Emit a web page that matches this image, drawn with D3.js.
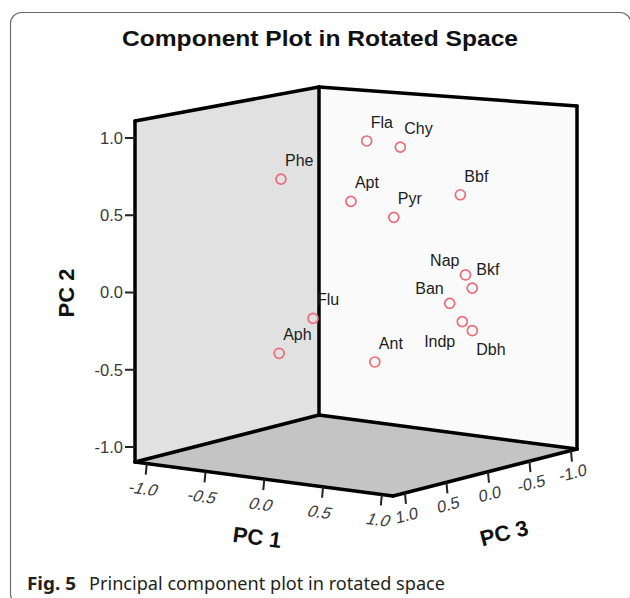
<!DOCTYPE html>
<html>
<head>
<meta charset="utf-8">
<script src="https://cdn.jsdelivr.net/npm/d3@7"></script>
<style>
  body { margin: 0; background: #fff; }
  svg { display: block; }
</style>
</head>
<body>
<svg id="chart" width="630" height="598"></svg>
<script>
// Component loadings (rotated solution)
const names = ["Phe", "Aph", "Flu", "Fla", "Chy", "Apt", "Pyr", "Bbf", "Nap", "Bkf", "Ban", "Indp", "Dbh", "Ant"];
const pc1 = [-0.20, -0.30, 0.20, 0.00, 0.30, 0.00, 0.40, 0.50, 0.60, 0.70, 0.60, 0.70, 0.75, 0.50];
const pc2 = [0.74, -0.40, -0.10, 0.92, 0.90, 0.55, 0.48, 0.56, 0.06, -0.01, -0.10, -0.21, -0.27, -0.39];
const pc3 = [0.66, 0.54, 0.84, -0.09, -0.07, 0.10, 0.15, -0.51, -0.43, -0.37, -0.24, -0.25, -0.30, 0.52];

const tickValues = [-1.0, -0.5, 0.0, 0.5, 1.0];
const tickLabels = ["-1.0", "-0.5", "0.0", "0.5", "1.0"];

// labels that sit somewhere other than above-right of their marker
const labelPlace = { Nap: "left", Ban: "left", Indp: "below-left", Dbh: "below-right" };

const svg = d3.select("#chart");
const SANS = '"Liberation Sans"';
const CAP = '"Noto Sans"';

// outer frame (right side runs just past the page edge)
svg.append("rect")
  .attr("x", 10.5).attr("y", 12.5)
  .attr("width", 620.5).attr("height", 592)
  .attr("rx", 11)
  .attr("fill", "#fff")
  .attr("stroke", "#6e6e6e")
  .attr("stroke-width", 1.2);

// title
svg.append("text")
  .style("font-family", SANS)
  .attr("x", 320).attr("y", 46)
  .attr("text-anchor", "middle")
  .style("font-weight", "bold")
  .style("font-size", "22.5px")
  .attr("textLength", 396).attr("lengthAdjust", "spacingAndGlyphs")
  .attr("fill", "#111")
  .text("Component Plot in Rotated Space");

// data -> unit cube
const u1 = d3.scaleLinear().domain([-1.10, 1.095]).range([0, 1]);
const u2 = d3.scaleLinear().domain([-1.097, 1.11]).range([0, 1]);
const u3 = d3.scaleLinear().domain([1.144, -1.073]).range([0, 1]);

// unit cube -> screen, floor corner (pc1 min, pc3 max) as origin,
// with vertical extent shrinking towards the back corner
const A = [135, 462], e1 = [258, 34], e3 = [184, -47];
function proj(a, b, c) {
  const h = 341 + 15 * a - 13 * c;
  return [A[0] + e1[0] * a + e3[0] * c, A[1] + e1[1] * a + e3[1] * c - h * b];
}
const P = (v1, v2, v3) => proj(u1(v1), u2(v2), u3(v3));

const fA = proj(0, 0, 0), fB = proj(1, 0, 0), fC = proj(1, 0, 1), fD = proj(0, 0, 1);
const tA = proj(0, 1, 0), tC = proj(1, 1, 1), tD = proj(0, 1, 1);

const poly = pts => "M" + pts.map(p => p.join(",")).join("L") + "Z";

// walls and floor
svg.append("path").attr("d", poly([fA, fB, fC, fD])).attr("fill", "#c4c4c4");
svg.append("path").attr("d", poly([fA, fD, tD, tA])).attr("fill", "#e1e1e1");
svg.append("path").attr("d", poly([fD, fC, tC, tD])).attr("fill", "#fafafa");

// box edges
const edges = [[fA, tA], [tA, tD], [tD, fD], [tD, tC], [tC, fC], [fA, fB], [fB, fC], [fA, fD], [fD, fC]];
svg.append("g").selectAll("line").data(edges).join("line")
  .attr("x1", d => d[0][0]).attr("y1", d => d[0][1])
  .attr("x2", d => d[1][0]).attr("y2", d => d[1][1])
  .attr("stroke", "#000")
  .attr("stroke-width", 3.5)
  .attr("stroke-linecap", "round");

const tickText = sel => sel
  .style("font-family", SANS).style("font-size", "16.5px").attr("fill", "#3a3a3a");

// PC 2 axis (left edge)
const g2 = svg.append("g");
tickValues.forEach((v, i) => {
  const p = P(-1.10, v, 1.144);
  g2.append("line")
    .attr("x1", p[0] - 10).attr("x2", p[0]).attr("y1", p[1]).attr("y2", p[1])
    .attr("stroke", "#222").attr("stroke-width", 2);
  g2.append("text").call(tickText)
    .attr("x", p[0] - 12).attr("y", p[1])
    .attr("dy", "0.36em")
    .attr("text-anchor", "end")
    .text(tickLabels[i]);
});

// PC 1 axis (front-left floor edge)
const ang1 = Math.atan2(e1[1], e1[0]) * 180 / Math.PI;
const g1 = svg.append("g");
tickValues.forEach((v, i) => {
  const p = P(v, -1.097, 1.144);
  g1.append("line")
    .attr("x1", p[0]).attr("x2", p[0] - 1).attr("y1", p[1]).attr("y2", p[1] + 11)
    .attr("stroke", "#222").attr("stroke-width", 2);
  g1.append("text").call(tickText)
    .attr("transform", `translate(${p[0] - 3},${p[1] + 25}) rotate(${ang1}) skewX(-18)`)
    .attr("text-anchor", "middle").attr("dy", "0.36em")
    .text(tickLabels[i]);
});

// PC 3 axis (front-right floor edge)
const ang3 = Math.atan2(e3[1], e3[0]) * 180 / Math.PI;
const g3 = svg.append("g");
tickValues.forEach((v, i) => {
  const p = P(1.095, -1.097, v);
  g3.append("line")
    .attr("x1", p[0]).attr("x2", p[0] + 1).attr("y1", p[1]).attr("y2", p[1] + 11)
    .attr("stroke", "#222").attr("stroke-width", 2);
  g3.append("text").call(tickText)
    .attr("transform", `translate(${p[0] + 2},${p[1] + 22}) rotate(${ang3}) skewX(-10)`)
    .attr("text-anchor", "middle").attr("dy", "0.36em")
    .text(tickLabels[i]);
});

// axis titles
const titleStyle = sel => sel
  .style("font-family", SANS)
  .attr("text-anchor", "middle").attr("dy", "0.36em")
  .style("font-weight", "bold")
  .style("font-size", "22px").attr("fill", "#111");

svg.append("text").call(titleStyle)
  .attr("transform", "translate(66,293) rotate(-90)")
  .text("PC 2");

const m1 = P(0, -1.097, 1.144);
svg.append("text").call(titleStyle)
  .attr("transform", `translate(${m1[0] - 7},${m1[1] + 58}) rotate(${ang1})`)
  .text("PC 1");

const m3 = P(1.095, -1.097, 0);
svg.append("text").call(titleStyle)
  .attr("transform", `translate(${m3[0] + 16},${m3[1] + 61}) rotate(${ang3})`)
  .text("PC 3");

// points
const pts = names.map((n, i) => ({ name: n, pos: P(pc1[i], pc2[i], pc3[i]) }));

svg.append("g").selectAll("circle").data(pts).join("circle")
  .attr("cx", d => d.pos[0]).attr("cy", d => d.pos[1])
  .attr("r", 5)
  .attr("fill", "none")
  .attr("stroke", "#ef6a78")
  .attr("stroke-width", 1.7);

const labelOffset = {
  "above-right": [4, -13, "start"],
  "left": [-6, -9, "end"],
  "below-left": [-7, 25, "end"],
  "below-right": [4, 24, "start"]
};

svg.append("g").selectAll("text").data(pts).join("text")
  .each(function (d) {
    const o = labelOffset[labelPlace[d.name] || "above-right"];
    d3.select(this)
      .attr("x", d.pos[0] + o[0]).attr("y", d.pos[1] + o[1])
      .attr("text-anchor", o[2]);
  })
  .style("font-family", SANS).style("font-size", "16px").attr("fill", "#1c1c1c")
  .text(d => d.name);

// caption
svg.append("text")
  .style("font-family", CAP)
  .attr("x", 27).attr("y", 590)
  .style("font-size", "18px").style("font-weight", "bold").attr("fill", "#231f20")
  .attr("textLength", 49).attr("lengthAdjust", "spacingAndGlyphs")
  .text("Fig. 5");
svg.append("text")
  .style("font-family", CAP)
  .attr("x", 89).attr("y", 590)
  .style("font-size", "18px").attr("fill", "#231f20")
  .attr("textLength", 356).attr("lengthAdjust", "spacingAndGlyphs")
  .text("Principal component plot in rotated space");
</script>
</body>
</html>
